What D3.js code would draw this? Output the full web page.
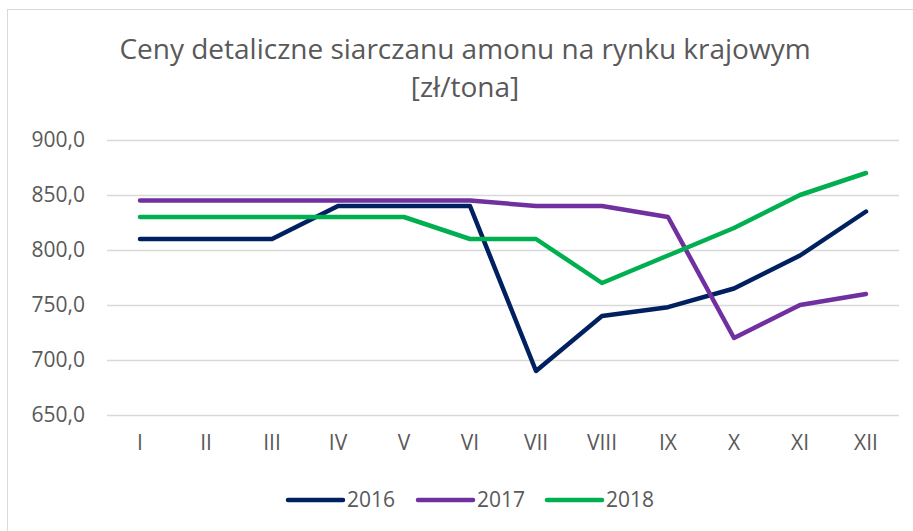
<!DOCTYPE html>
<html>
<head>
<meta charset="utf-8">
<script src="https://cdn.jsdelivr.net/npm/d3@7"></script>
<style>
  html, body { margin: 0; padding: 0; background: #fff; }
  svg { display: block; }
  text { font-family: "Open Sans", "DejaVu Sans", sans-serif; fill: #595959; }
</style>
</head>
<body>
<svg id="chart" width="913" height="531"></svg>
<script>
const months = ["I","II","III","IV","V","VI","VII","VIII","IX","X","XI","XII"];
const years = ["2016","2017","2018"];
const values2016 = [810, 810, 810, 840, 840, 840, 690, 740, 748, 765, 795, 835];
const values2017 = [845, 845, 845, 845, 845, 845, 840, 840, 830, 720, 750, 760];
const values2018 = [830, 830, 830, 830, 830, 810, 810, 770, 795, 820, 850, 870];
const yTicks = [650, 700, 750, 800, 850, 900];
const colors = ["#002060", "#7030A0", "#00B050"];
const titleLines = ["Ceny detaliczne siarczanu amonu na rynku krajowym", "[zł/tona]"];

const series = [values2016, values2017, values2018];

const svg = d3.select("#chart");

// chart border
svg.append("rect")
  .attr("x", 7.5).attr("y", 9.5)
  .attr("width", 920).attr("height", 540)
  .attr("fill", "none").attr("stroke", "#d9d9d9").attr("stroke-width", 1);

const plot = { left: 107, right: 899, top: 140, bottom: 415 };

const x = d3.scaleBand().domain(months).range([plot.left, plot.right]);
const y = d3.scaleLinear().domain([650, 900]).range([plot.bottom, plot.top]);

// title
svg.append("g").selectAll("text").data(titleLines).join("text")
  .attr("x", 465)
  .attr("y", (d, i) => 59 + i * 38)
  .attr("text-anchor", "middle")
  .style("font-size", "28px")
  .text(d => d);

// gridlines + y labels
const yAxis = d3.axisLeft(y).tickValues(yTicks)
  .tickSize(-(plot.right - plot.left))
  .tickPadding(22)
  .tickFormat(d => d3.format(".1f")(d).replace(".", ","));
const gy = svg.append("g").attr("transform", `translate(${plot.left},0)`).call(yAxis);
gy.select(".domain").remove();
gy.selectAll(".tick line").attr("stroke", "#d9d9d9").attr("stroke-width", 1.5);
gy.selectAll(".tick text").style("font-size", "21px").attr("fill", "#595959")
  .style("font-family", "\"Open Sans\", sans-serif");

// x labels
const xAxis = d3.axisBottom(x).tickSize(0).tickPadding(20);
const gx = svg.append("g").attr("transform", `translate(0,${plot.bottom})`).call(xAxis);
gx.select(".domain").remove();
gx.selectAll(".tick text").style("font-size", "21px").attr("fill", "#595959")
  .style("font-family", "\"Open Sans\", sans-serif");

// lines
const line = d3.line()
  .x((d, i) => x(months[i]) + x.bandwidth() / 2)
  .y(d => y(d));

svg.append("g").selectAll("path").data(series).join("path")
  .attr("d", d => line(d))
  .attr("fill", "none")
  .attr("stroke", (d, i) => colors[i])
  .attr("stroke-width", 4.5)
  .attr("stroke-linecap", "round")
  .attr("stroke-linejoin", "round");

// legend
const legendX = [288, 418, 547];
const lg = svg.append("g").selectAll("g").data(years).join("g")
  .attr("transform", (d, i) => `translate(${legendX[i]},500)`);
lg.append("line")
  .attr("x1", 0).attr("x2", 55).attr("y1", 0).attr("y2", 0)
  .attr("stroke", (d, i) => colors[i])
  .attr("stroke-width", 4.5)
  .attr("stroke-linecap", "round");
lg.append("text")
  .attr("x", 59).attr("y", 0)
  .attr("dy", "0.35em")
  .style("font-size", "21px")
  .text(d => d);
</script>
</body>
</html>
